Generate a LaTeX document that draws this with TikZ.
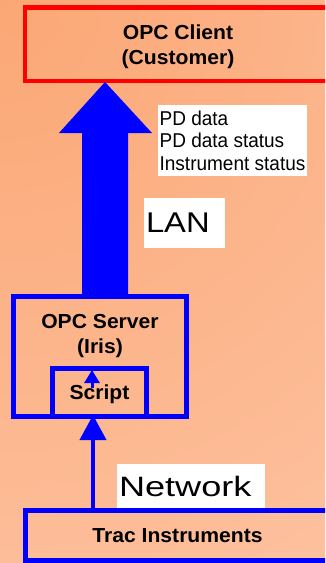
\documentclass[tikz,border=0pt]{standalone}
\usepackage{fontspec}
\setmainfont{Liberation Sans}
\newfontfamily\boxfont[FakeStretch=1.04]{Liberation Sans}
\newfontfamily\pdfont[FakeStretch=0.95]{Liberation Sans}
\newfontfamily\lanfont[FakeStretch=1.15]{Liberation Sans}
\newfontfamily\netfont[FakeStretch=1.29]{Liberation Sans}
\usetikzlibrary{arrows.meta,calc}
\definecolor{bgdark}{RGB}{251,167,117}
\definecolor{bglight}{RGB}{255,218,199}
\definecolor{pureblue}{RGB}{0,0,255}
\definecolor{purered}{RGB}{255,0,0}
\pgfdeclareradialshading{bgradial}{\pgfpoint{0bp}{0bp}}{color(0bp)=(bgdark); color(50bp)=(bglight); color(80bp)=(bglight)}
\begin{document}
\begin{tikzpicture}[x=1pt,y=-1pt,
  box/.style={draw, rectangle, inner sep=0pt, outer sep=0pt,
    font=\boxfont\bfseries\fontsize{20.3}{25.5}\selectfont, align=center},
  bluebox/.style={box, draw=pureblue, line width=5pt},
  redbox/.style={box, draw=purered, line width=4.5pt},
  lbl/.style={inner sep=0pt, font=\boxfont\bfseries\fontsize{20.3}{25.5}\selectfont, align=center},
  whitelabel/.style={fill=white, rectangle, inner sep=2pt, align=left},
  bigarrow/.style={fill=pureblue},
  netarrow/.style={draw=pureblue, line width=4pt, -{Triangle[width=26pt,length=25pt]}},
  scriptarrow/.style={draw=pureblue, line width=3pt, -{Triangle[width=15pt,length=13pt]}}
]
\useasboundingbox (0,0) rectangle (325,563);
\clip (0,0) rectangle (325,563);
\shade[shading=bgradial] (-650,-650) rectangle (650,650);

% boxes
\node[redbox, minimum width=306pt, minimum height=73.5pt] (client) at (178,44.25)
  {\rule{0pt}{20pt}OPC Client\\(Customer)};
\node[bluebox, minimum width=173pt, minimum height=120pt] (server) at (100,356.5) {};
\node[lbl] (servertext) at (100,336) {OPC Server\\(Iris)};
\node[bluebox, minimum width=94pt, minimum height=48pt] (script) at (99.5,392.5) {};
\node[bluebox, minimum width=304pt, minimum height=50pt] (trac) at (177.5,535.5) {Trac Instruments};

% helper x positions
\coordinate (nx) at (93,0);
\coordinate (sx) at (92,0);

% big LAN arrow
\fill[bigarrow] let \p1=(client.south), \p2=(server.north) in
  (105pt,\y1-1pt) -- (152pt,\y1-52pt) -- (128pt,\y1-52pt) -- (128pt,\y2)
  -- (82pt,\y2) -- (82pt,\y1-52pt) -- (59pt,\y1-52pt) -- cycle;

% small arrow inside script
\draw[scriptarrow, shorten >=1.5pt] ($(script.center -| sx)+(0,-4.5)$) -- (script.north -| sx);
\node[lbl] (scripttext) at (99.5,394) {Script};

% network arrow
\draw[netarrow, shorten >=-1.5pt] (trac.north -| nx) -- (script.south -| nx);

% labels
\node[whitelabel, inner sep=1pt, minimum width=149pt, minimum height=71pt,
  font=\pdfont\fontsize{20}{22.5}\selectfont] (pdlabel) at (232.5,140.5)
  {PD data\\PD data status\\Instrument status};
\node[whitelabel, minimum width=81pt, minimum height=50pt, text width=77pt,
  font=\lanfont\fontsize{28.5}{30}\selectfont] (lan) at (184.5,223) {LAN};
\node[whitelabel, minimum width=148pt, minimum height=44pt, text width=144pt,
  font=\netfont\fontsize{28}{30}\selectfont] (network) at (191,486) {Network};
\end{tikzpicture}
\end{document}
